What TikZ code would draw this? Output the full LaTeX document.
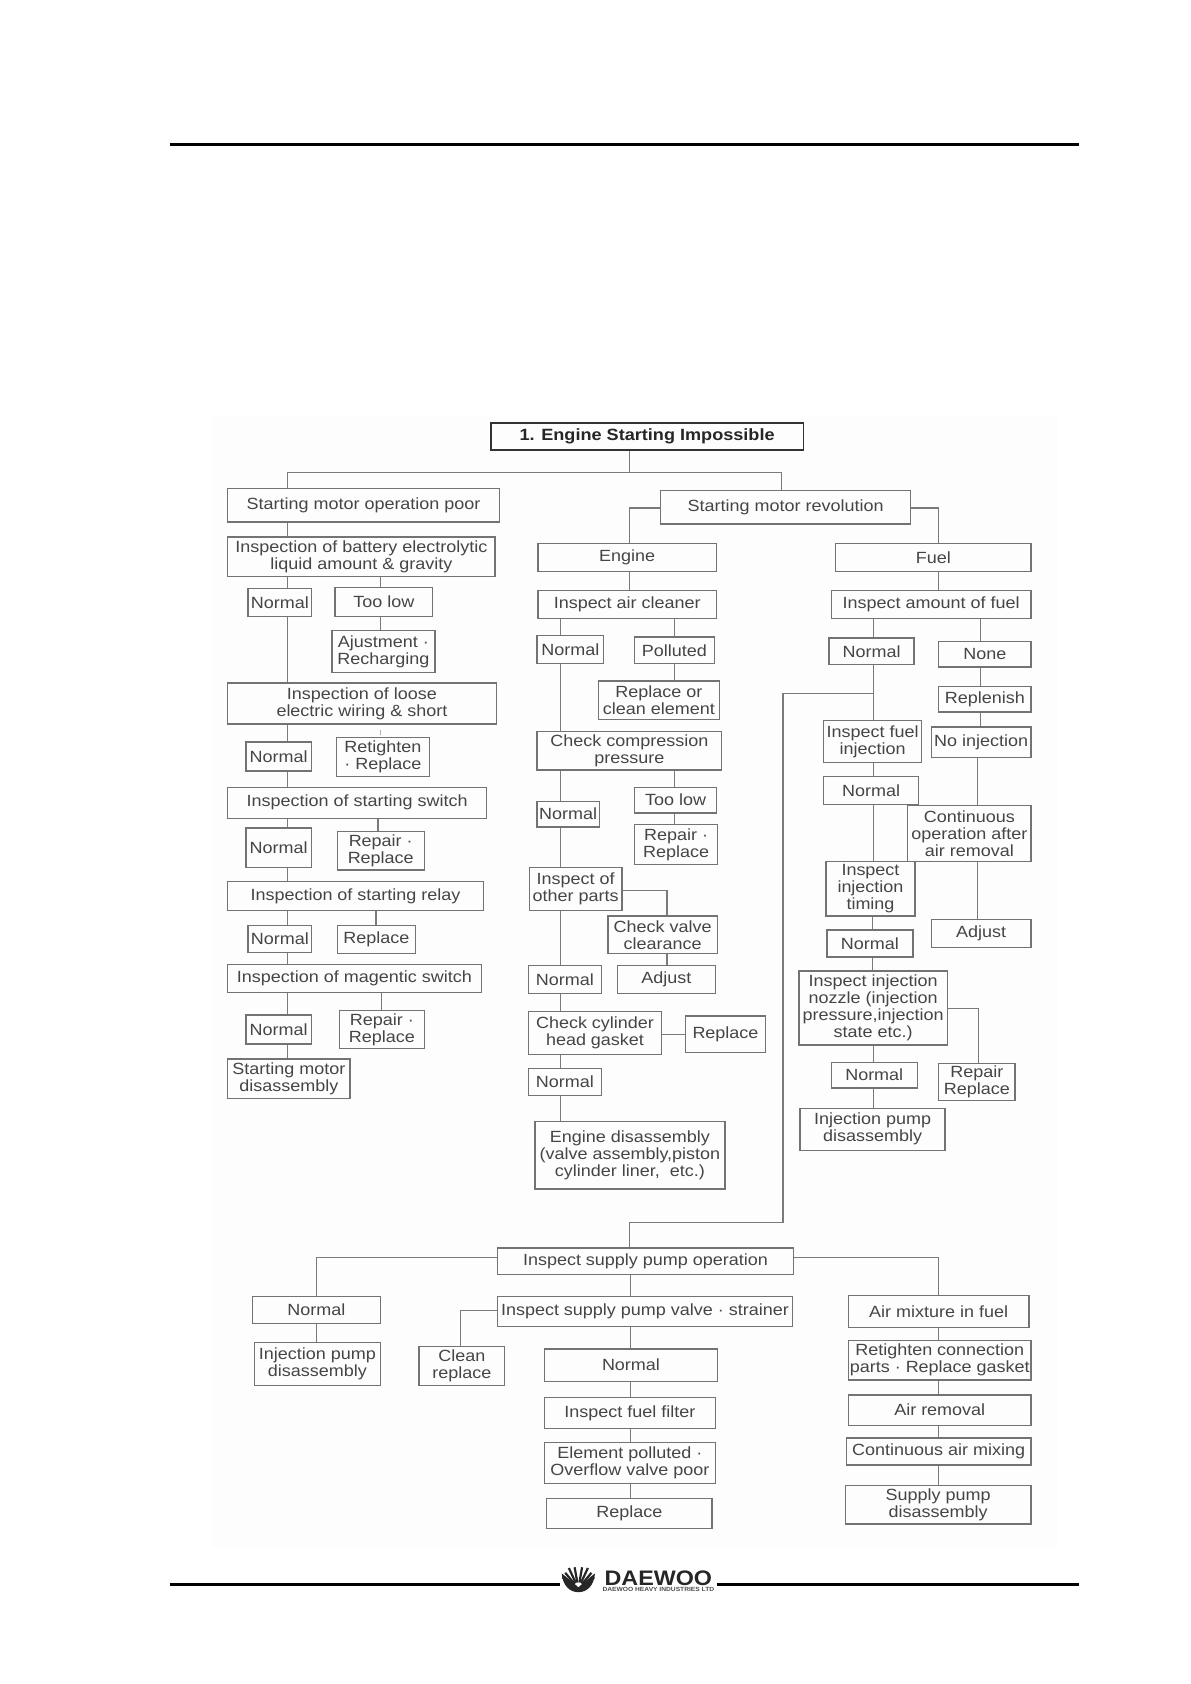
\documentclass[tikz,border=0pt]{standalone}
\usepackage{fontspec}
\setmainfont[FakeStretch=1.11]{Liberation Sans}
\definecolor{boxc}{gray}{0.45}
\definecolor{linec}{gray}{0.48}
\definecolor{txtc}{gray}{0.27}
\tikzset{
  boxn/.style={draw=boxc,line width=1.3pt,inner sep=0pt,align=center,text=txtc,font=\fontsize{16.2}{17}\selectfont},
  link/.style={draw=linec,line width=1.2pt},
  rulel/.style={draw=black,line width=3pt}
}
\newcommand\bx[6]{\node[boxn,minimum width={(#4-#2)*1.074pt},minimum height={(#5-#3)*1.074pt}] (#1) at ({(#2+#4)/2},{(#3+#5)/2}) {#6};}
\newcommand\vc[3]{\coordinate (tt) at (#3,0); \draw[link] (#1.south -| tt) -- (#2.north -| tt);}
\begin{document}
\begin{tikzpicture}[x=1.07401pt,y=-1.07398pt]
\useasboundingbox (0,0) rectangle (1108,1568);
\fill[gray!1.5] (197,388) rectangle (985,1440);
\coordinate (rta) at (158,134.5); \coordinate (rtb) at (1005,134.5);
\draw[rulel] (rta) -- (rtb);
\coordinate (rba) at (158,1475); \coordinate (rbb) at (521,1475);
\coordinate (rbc) at (668,1475); \coordinate (rbd) at (1005,1475);
\draw[rulel] (rba) -- (rbb); \draw[rulel] (rbc) -- (rbd);
% logo
\fill[black!85] (523,1465) .. controls (524,1477) and (531,1482.5) .. (538.5,1482.5) .. controls (546,1482.5) and (553,1477) .. (554,1465) .. controls (549,1469) and (544,1473) .. (538.5,1478) .. controls (533,1473) and (528,1469) .. (523,1465) -- cycle;
\foreach \a/\l in {100/20,115/21,130/19,145/18,80/20,65/21,50/19,35/18}{
  \draw[black!85,line width=2.2pt] (538.5,1479) ++(\a:{-\l}) -- ++(\a:{\l*0.72});
}
\node[inner sep=0pt,font=\fontsize{21}{21}\bfseries\selectfont,xscale=1.0,text=black!85] (logo) at (613,1469.5) {DAEWOO};
\node[inner sep=0pt,font=\fontsize{6}{6}\bfseries\selectfont,text=black!70] (logosub) at (613,1480) {DAEWOO HEAVY INDUSTRIES LTD};
% title
\node[boxn,draw=black!80,line width=1.6pt,minimum width={291*1.074pt},minimum height={25*1.074pt},font=\fontsize{16.3}{18}\bfseries\selectfont,text=black!85] (title) at (602.5,406.5) {\raisebox{-1pt}{1. Engine Starting Impossible}};
% left column
\bx{poor}{212}{455}{465}{486}{Starting motor operation poor}
\bx{batt}{212}{500}{461}{537}{Inspection of battery electrolytic\\liquid amount \& gravity}
\bx{n1}{231}{548}{290}{574}{Normal}
\bx{low1}{312}{547}{403}{574}{Too low}
\bx{ajust}{309}{587}{405}{626}{Ajustment ·\\Recharging}
\bx{loose}{212}{636}{462}{674}{Inspection of loose\\electric wiring \& short}
\bx{n2}{229}{691}{290}{718}{Normal}
\bx{ret}{313}{687}{400}{723}{Retighten\\· Replace}
\bx{sw}{212}{733}{453}{762}{Inspection of starting switch}
\bx{n3}{229}{771}{290}{808}{Normal}
\bx{rep1}{314}{774}{395}{810}{Repair ·\\Replace}
\bx{relay}{212}{821}{450}{848}{Inspection of starting relay}
\bx{n4}{231}{862}{290}{887}{Normal}
\bx{rep2}{314}{862}{387}{888}{Replace}
\bx{mag}{212}{898}{448}{924}{Inspection of magentic switch}
\bx{n5}{229}{945}{290}{972}{Normal}
\bx{rep3}{316}{941}{395}{976}{Repair ·\\Replace}
\bx{smd}{212}{986}{326}{1023}{Starting motor\\disassembly}
% middle column
\bx{rev}{615}{457}{848}{488}{Starting motor revolution}
\bx{eng}{501}{506}{667}{532}{Engine}
\bx{air}{501}{550}{667}{576}{Inspect air cleaner}
\bx{m1}{500}{592}{562}{618}{Normal}
\bx{pol}{591}{593}{665}{618}{Polluted}
\bx{roc}{557}{634}{670}{670}{Replace or\\clean element}
\bx{comp}{500}{681}{672}{717}{Check compression\\pressure}
\bx{m2}{500}{746}{558}{770}{Normal}
\bx{low2}{591}{733}{667}{757}{Too low}
\bx{rep4}{591}{768}{668}{805}{Repair ·\\Replace}
\bx{oth}{493}{808}{579}{848}{Inspect of\\other parts}
\bx{valve}{566}{853}{668}{888}{Check valve\\clearance}
\bx{m3}{492}{899}{560}{925}{Normal}
\bx{adj1}{575}{899}{666}{925}{Adjust}
\bx{cyl}{492}{942}{616}{982}{Check cylinder\\head gasket}
\bx{rep5}{638}{946}{713}{980}{Replace}
\bx{m4}{492}{995}{560}{1020}{Normal}
\bx{ed}{498}{1044}{675}{1107}{Engine disassembly\\(valve assembly,piston\\cylinder liner,\ \ etc.)}
% right column
\bx{fuel}{778}{506}{960}{532}{Fuel}
\bx{amt}{774}{550}{960}{576}{Inspect amount of fuel}
\bx{f1}{772}{594}{851}{619}{Normal}
\bx{none}{874}{597}{960}{621}{None}
\bx{repl}{874}{639}{960}{663}{Replenish}
\bx{fi}{767}{671}{858}{710}{Inspect fuel\\injection}
\bx{noi}{867}{677}{960}{705}{No injection}
\bx{f2}{767}{723}{855}{749}{Normal}
\bx{cont}{845}{750}{960}{802}{Continuous\\operation after\\air removal}
\bx{tim}{769}{802}{852}{853}{Inspect\\injection\\timing}
\bx{adj2}{867}{856}{960}{882}{Adjust}
\bx{f3}{770}{866}{850}{891}{Normal}
\bx{noz}{744}{904}{882}{973}{Inspect injection\\nozzle (injection\\pressure,injection\\state etc.)}
\bx{f4}{774}{989}{854}{1013}{Normal}
\bx{rep6}{874}{990}{945}{1025}{Repair\\Replace}
\bx{ipd}{745}{1032}{880}{1071}{Injection pump\\disassembly}
% bottom
\bx{op}{463}{1162}{739}{1187}{Inspect supply pump operation}
\bx{b1}{235}{1207}{354}{1232}{Normal}
\bx{ipd2}{237}{1250}{354}{1290}{Injection pump\\disassembly}
\bx{spv}{463}{1207}{738}{1235}{Inspect supply pump valve · strainer}
\bx{clean}{390}{1254}{470}{1290}{Clean\\replace}
\bx{b2}{507}{1256}{668}{1286}{Normal}
\bx{ff}{507}{1301}{666}{1330}{Inspect fuel filter}
\bx{elem}{507}{1343}{666}{1381}{Element polluted ·\\Overflow valve poor}
\bx{rep7}{509}{1395}{663}{1423}{Replace}
\bx{mix}{790}{1206}{958}{1236}{Air mixture in fuel}
\bx{rcp}{790}{1248}{960}{1285}{Retighten connection\\parts · Replace gasket}
\bx{arm}{790}{1299}{960}{1327}{Air removal}
\bx{cam}{788}{1339}{960}{1364}{Continuous air mixing}
\bx{spd}{787}{1383}{960}{1419}{Supply pump\\disassembly}
% connectors: top
\coordinate (tj) at (586,440);
\draw[link] (title.south -| tj) -- (tj);
\coordinate (tl) at (268,440); \coordinate (tr) at (728,440);
\draw[link] (poor.north -| tl) -- (tl) -- (tr) -- (rev.north -| tr);
\coordinate (rl) at (586,473); \coordinate (rr) at (874,473);
\draw[link] (rev.west |- rl) -- (rl) -- (eng.north -| rl);
\draw[link] (rev.east |- rr) -- (rr) -- (fuel.north -| rr);
% left chain
\vc{poor}{batt}{268}\vc{batt}{n1}{268}\vc{n1}{loose}{268}\vc{loose}{n2}{268}\vc{n2}{sw}{268}
\vc{sw}{n3}{268}\vc{n3}{relay}{268}\vc{relay}{n4}{268}\vc{n4}{mag}{268}\vc{mag}{n5}{268}\vc{n5}{smd}{268}
\vc{batt}{low1}{354}\vc{low1}{ajust}{354}\vc{sw}{rep1}{352}\vc{relay}{rep2}{350}\vc{mag}{rep3}{355}
\coordinate (tick) at (354,680);
\draw[draw=gray!60,line width=1pt] (tick) -- ++(0,4);
% middle chain
\vc{eng}{air}{586}\vc{air}{m1}{522}\vc{m1}{comp}{522}\vc{comp}{m2}{522}\vc{m2}{oth}{522}\vc{oth}{m3}{522}
\vc{m3}{cyl}{522}\vc{cyl}{m4}{522}\vc{m4}{ed}{522}
\vc{air}{pol}{628}\vc{pol}{roc}{628}\vc{comp}{low2}{628}\vc{low2}{rep4}{628}\vc{valve}{adj1}{621}
\coordinate (ov) at (621,829);
\draw[link] (oth.east |- ov) -- (ov) -- (valve.north -| ov);
\draw[link] (cyl.east |- rep5.west) -- (rep5.west);
% right chain
\vc{fuel}{amt}{874}\vc{amt}{f1}{813}\vc{amt}{none}{913}\vc{none}{repl}{913}\vc{repl}{noi}{913}
\vc{noi}{cont}{910}\vc{cont}{adj2}{910}
\vc{f1}{fi}{813}\vc{fi}{f2}{813}\vc{f2}{tim}{813}\vc{tim}{f3}{812}\vc{f3}{noz}{812}\vc{noz}{f4}{813}\vc{f4}{ipd}{813}
\coordinate (nz) at (911,939);
\draw[link] (noz.east |- nz) -- (nz) -- (rep6.north -| nz);
% long link
\coordinate (ja) at (813,646); \coordinate (jb) at (729,646); \coordinate (jc) at (729,1138); \coordinate (jd) at (586,1138);
\draw[link] (ja) -- (jb) -- (jc) -- (jd) -- (op.north -| jd);
% bottom chain
\coordinate (bl) at (295,1171); \coordinate (br) at (874,1171); \coordinate (cl) at (429,1220);
\draw[link] (op.west |- bl) -- (bl) -- (b1.north -| bl);
\draw[link] (op.east |- br) -- (br) -- (mix.north -| br);
\draw[link] (spv.west |- cl) -- (cl) -- (clean.north -| cl);
\vc{b1}{ipd2}{295}\vc{op}{spv}{587}\vc{spv}{b2}{587}\vc{b2}{ff}{587}\vc{ff}{elem}{587}\vc{elem}{rep7}{587}
\vc{mix}{rcp}{874}\vc{rcp}{arm}{874}\vc{arm}{cam}{874}\vc{cam}{spd}{874}
\end{tikzpicture}
\end{document}
